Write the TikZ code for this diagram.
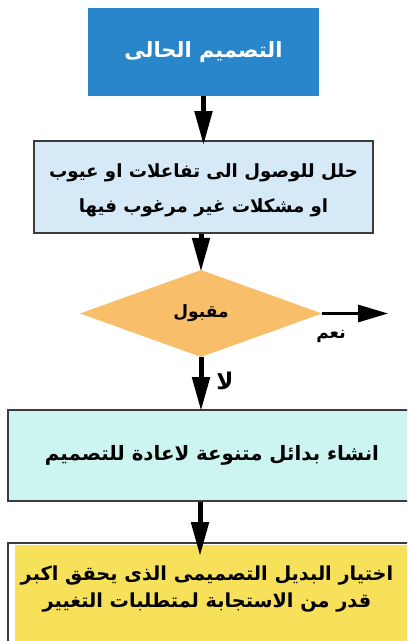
\documentclass[tikz,border=0pt]{standalone}
\usepackage{fontspec}
\newfontfamily\arabicfont[Script=Arabic]{DejaVu Sans}
\TeXXeTstate=1
\usetikzlibrary{shapes.geometric,arrows.meta}
\newcommand\artxt[1]{\beginR #1\endR}
\definecolor{topblue}{RGB}{42,134,203}
\definecolor{boxblue}{RGB}{214,233,246}
\definecolor{diaorange}{RGB}{249,190,106}
\definecolor{boxcyan}{RGB}{204,245,241}
\definecolor{boxyellow}{RGB}{248,225,90}
\definecolor{edgegray}{RGB}{60,60,60}
\begin{document}
\begin{tikzpicture}[x=1bp,y=-1bp,
  every node/.style={font=\arabicfont, inner sep=0pt},
  boxstyle/.style={rectangle, draw=edgegray, line width=1.8bp, align=center},
  flowarrow/.style={line width=5bp, -{Triangle[length=34bp,width=17bp]}},
  yesarrow/.style={line width=3bp, -{Triangle[length=30bp,width=17bp]}},
  boxtwotext/.style={font=\arabicfont\bfseries\fontsize{18.2bp}{35bp}\selectfont},
  boxthreetext/.style={font=\arabicfont\bfseries\fontsize{19.8bp}{28bp}\selectfont},
  boxfourtext/.style={font=\arabicfont\bfseries\fontsize{19.3bp}{27bp}\selectfont},
  diatext/.style={font=\arabicfont\bfseries\fontsize{17bp}{20bp}\selectfont},
  labeltext/.style={font=\arabicfont\bfseries\fontsize{17bp}{20bp}\selectfont}]
\clip (0,0) rectangle (407,641);
\fill[white] (0,0) rectangle (407,641);
% top box
\node[rectangle, fill=topblue, text=white, minimum width=231bp, minimum height=88bp,
      font=\arabicfont\bfseries\fontsize{21bp}{25bp}\selectfont] (top) at (203.5,52) {\artxt{التصميم الحالى}};
% second box
\node[boxstyle, fill=boxblue, minimum width=339bp, minimum height=92bp] (box2) at (203.5,187) {};
\node[boxtwotext, align=center] (box2txt) at (203.5,190.5)
  {\artxt{حلل للوصول الى تفاعلات او عيوب}\\\artxt{او مشكلات غير مرغوب فيها}};
% diamond
\node[diamond, fill=diaorange, minimum width=242bp, minimum height=87bp, diatext] (dia) at (201,313.5)
  {\artxt{مقبول}};
% third box
\node[boxstyle, fill=boxcyan, minimum width=408bp, minimum height=91bp, boxthreetext] (box3) at (212,455.5)
  {\artxt{انشاء بدائل متنوعة لاعادة للتصميم}};
% fourth box
\node[boxstyle, fill=white, minimum width=404bp, minimum height=117bp] (box4) at (210,601.5) {};
\fill[boxyellow] (15,545) rectangle (420,660);
\node[boxfourtext, align=center] (box4txt) at (207,589.5)
  {\artxt{اختيار البديل التصميمى الذى يحقق اكبر}\\\artxt{قدر من الاستجابة لمتطلبات التغيير}};
% arrows
\coordinate (yesend) at (388,313.5);
\draw[flowarrow] (top.south) -- ([yshift=-5bp]top.south |- box2.north);
\draw[flowarrow] (box2.south -| dia.north) -- ([yshift=-2bp]dia.north);
\draw[flowarrow] (dia.south) -- ([yshift=-2bp]dia.south |- box3.north);
\draw[flowarrow] ([xshift=-1bp]box3.south -| dia.south) -- ([xshift=-1bp,yshift=-14bp]dia.south |- box4.north);
\draw[yesarrow] (dia.east) -- (yesend);
% labels
\node[labeltext] (yeslbl) at (331,336) {\artxt{نعم}};
\node[labeltext, font=\arabicfont\bfseries\fontsize{23bp}{25bp}\selectfont] (nolbl) at (225,381) {\artxt{لا}};
\end{tikzpicture}
\end{document}
